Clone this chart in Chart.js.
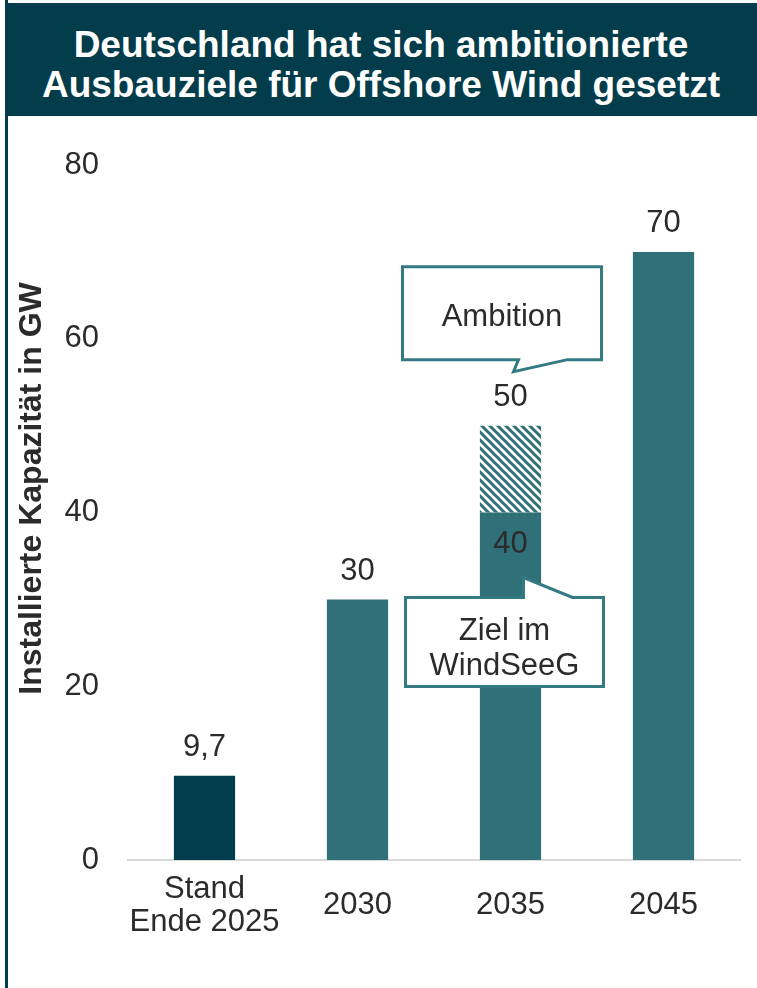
<!DOCTYPE html>
<html lang="de">
<head>
<meta charset="utf-8">
<title>Offshore Wind Ausbauziele</title>
<script src="https://cdn.jsdelivr.net/npm/chart.js@4.4.1/dist/chart.umd.min.js"></script>
<style>
  body { margin: 0; background: #fff; font-family: "Liberation Sans", Arial, sans-serif; }
  #wrap { position: relative; width: 757px; height: 988px; overflow: hidden; }
  #wrap canvas { position: absolute; left: 0; top: 0; }
  #frame { position: absolute; left: 5px; top: 0; bottom: 0; width: 3px; background: #023d4d; }
  #title {
    position: absolute; left: 5px; right: 0; top: 3px; height: 113px;
    box-sizing: border-box; padding-top: 22px;
    background: #033d4b; color: #fff; text-align: center;
    font-weight: bold; font-size: 37px; line-height: 40px;
  }
</style>
</head>
<body>
<div id="wrap">
  <canvas id="chart" width="757" height="988"></canvas>
  <div id="frame"></div>
  <div id="title">Deutschland hat sich ambitionierte<br>Ausbauziele für Offshore Wind gesetzt</div>
</div>
<script>
// Daten
const categories = [['Stand', 'Ende 2025'], '2030', '2035', '2045'];
const zielValues = [9.7, 30, 40, 70];      // feste Ziele / Bestand
const ambitionValues = [0, 0, 10, 0];      // zusätzliche Ambition (schraffiert)
const yTicks = [0, 20, 40, 60, 80];
const yTitle = 'Installierte Kapazität in GW';

const DARK = '#023d4d';
const TEAL = '#2f7079';
const TEXT = '#2b2b2b';
const FONT = '"Liberation Sans", Arial, sans-serif';

// Schraffur für den Ambitions-Anteil
function makeHatch(color) {
  const s = 8;
  const c = document.createElement('canvas');
  c.width = s; c.height = s;
  const g = c.getContext('2d');
  g.fillStyle = '#fff';
  g.fillRect(0, 0, s, s);
  g.strokeStyle = color;
  g.lineWidth = 3;
  g.beginPath();
  g.moveTo(-s / 2, -s / 2); g.lineTo(s * 1.5, s * 1.5);
  g.moveTo(-s / 2, s / 2); g.lineTo(s / 2, s * 1.5);
  g.moveTo(s / 2, -s / 2); g.lineTo(s * 1.5, s / 2);
  g.stroke();
  return g.createPattern(c, 'repeat');
}

const fmt = v => v.toLocaleString('de-DE');

// Sprechblase zeichnen (Punkte im Uhrzeigersinn)
function bubble(ctx, pts, lines, cx, ys) {
  ctx.beginPath();
  pts.forEach((p, i) => i ? ctx.lineTo(p[0], p[1]) : ctx.moveTo(p[0], p[1]));
  ctx.closePath();
  ctx.fillStyle = '#fff';
  ctx.fill();
  ctx.lineWidth = 3;
  ctx.strokeStyle = '#347a82';
  ctx.lineJoin = 'miter';
  ctx.stroke();
  ctx.fillStyle = TEXT;
  lines.forEach((t, i) => ctx.fillText(t, cx, ys[i]));
}

const labelsPlugin = {
  id: 'labels',
  afterDatasetsDraw(chart) {
    const ctx = chart.ctx;
    const base = chart.getDatasetMeta(0).data;
    const extra = chart.getDatasetMeta(1).data;
    ctx.save();
    ctx.font = '31px ' + FONT;
    ctx.textAlign = 'center';
    ctx.textBaseline = 'middle';
    ctx.fillStyle = TEXT;
    zielValues.forEach((v, i) => {
      const a = ambitionValues[i];
      const top = a > 0 ? extra[i] : base[i];
      ctx.fillText(fmt(v + a), top.x, top.y - 28);
      if (a > 0) ctx.fillText(fmt(v), base[i].x, base[i].y + 32);
    });

    // Callouts an der 2035-Säule
    const cx = base[2].x;
    const yA = extra[2].y;
    const yZ = base[2].y;
    let L = cx - 108, R = cx + 91, T = yA - 159, B = yA - 66;
    bubble(ctx, [[L, T], [R, T], [R, B], [cx + 57, B], [cx + 3, yA - 54], [cx + 8, B], [L, B]],
      ['Ambition'], (L + R) / 2, [T + 51]);
    L = cx - 105; R = cx + 93; T = yZ + 85; B = yZ + 174;
    bubble(ctx, [[L, T], [cx + 13, T], [cx + 13, yZ + 65], [cx + 62, T], [R, T], [R, B], [L, B]],
      ['Ziel im', 'WindSeeG'], (L + R) / 2, [T + 34, T + 69]);

    // Achsentitel
    const area = chart.chartArea;
    ctx.translate(32, (area.top + area.bottom) / 2 - 24);
    ctx.rotate(-Math.PI / 2);
    ctx.font = 'bold 32px ' + FONT;
    ctx.fillText(yTitle, 0, 0);
    ctx.restore();
  }
};

const tickFont = { family: FONT, size: 31, lineHeight: 33 / 31 };

new Chart(document.getElementById('chart'), {
  type: 'bar',
  data: {
    labels: categories,
    datasets: [
      {
        label: 'Ziel',
        data: zielValues,
        backgroundColor: zielValues.map((v, i) => i === 0 ? DARK : TEAL),
        categoryPercentage: 1,
        barPercentage: 0.4
      },
      {
        label: 'Ambition',
        data: ambitionValues,
        backgroundColor: makeHatch(TEAL),
        categoryPercentage: 1,
        barPercentage: 0.4
      }
    ]
  },
  options: {
    responsive: false,
    animation: false,
    layout: { padding: { left: 10, top: 165, right: 17, bottom: 48 } },
    plugins: { legend: { display: false }, tooltip: { enabled: false } },
    scales: {
      x: {
        stacked: true,
        grid: { display: false, drawTicks: false },
        border: { display: true, color: '#d9d9d9', width: 2 },
        ticks: { color: TEXT, font: tickFont, padding: 29, crossAlign: 'center', maxRotation: 0, autoSkip: false },
        afterFit: s => { s.height = 80; }
      },
      y: {
        stacked: true,
        min: 0,
        max: 80,
        grid: { display: false, drawTicks: false },
        border: { display: false },
        afterBuildTicks: s => { s.ticks = yTicks.map(v => ({ value: v })); },
        ticks: { color: TEXT, font: tickFont, padding: 29 },
        afterFit: s => { s.width = 118; }
      }
    }
  },
  plugins: [labelsPlugin]
});
</script>
</body>
</html>
